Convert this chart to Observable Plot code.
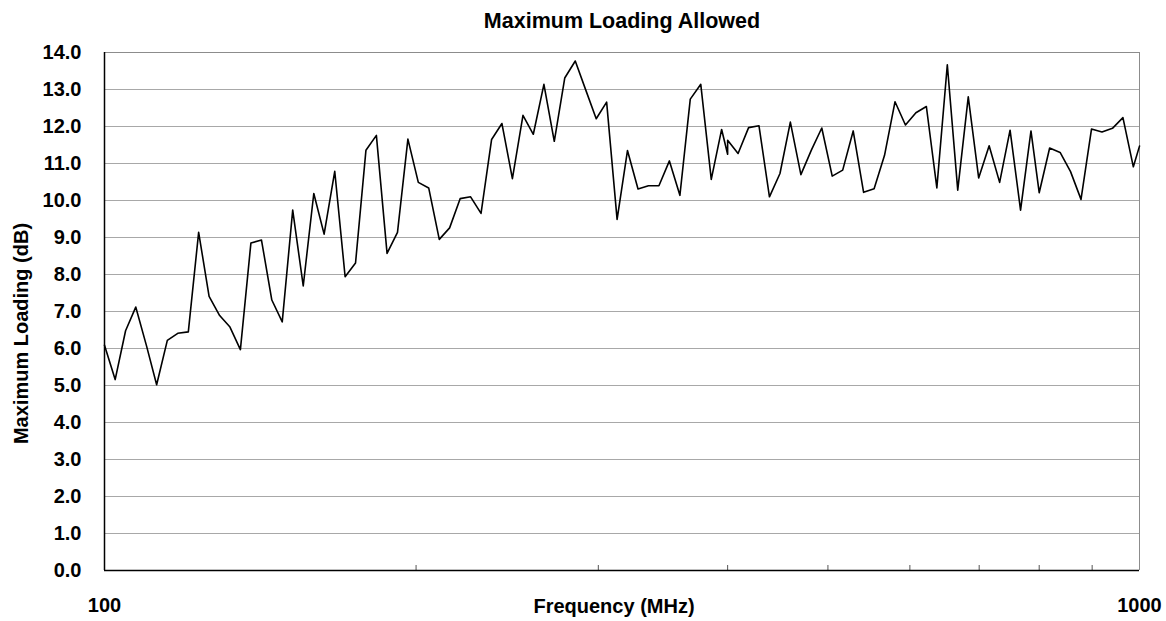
<!DOCTYPE html>
<html><head><meta charset="utf-8">
<script src="https://cdn.jsdelivr.net/npm/d3@7"></script>
<script src="https://cdn.jsdelivr.net/npm/@observablehq/plot@0.6"></script>
<style>
body{margin:0;background:#fff;}
svg{font-family:Arial,"Liberation Sans",sans-serif;}
</style>
</head><body><div id="chart"></div>
<script>
// Frequencies (MHz), three bands
const freqBand1 = [100,102.4,104.8,107.2,109.8,112.3,115.0,117.7,120.5,123.3,126.2,129.2,132.2,135.3,138.5,141.8,145.1,148.5,152.0,155.6,159.3,163.0,166.9,170.8,174.8,178.9,183.1,187.5,191.9,196.4,201.0,205.7,210.6,215.5,220.6,225.8,231.1,236.6,242.1,247.8,253.7,259.6,265.8,272.0,278.4,285.0,291.7,298.6,305.6,312.8,320.1,327.7,335.4,343.3,351.4,359.7,368.1,376.8,385.7,394.7,400];
const loadBand1 = [6.09,5.16,6.48,7.12,6.07,5.02,6.22,6.41,6.45,9.14,7.41,6.89,6.58,5.97,8.85,8.93,7.31,6.72,9.74,7.69,10.19,9.09,10.79,7.94,8.31,11.36,11.76,8.57,9.14,11.66,10.49,10.34,8.95,9.26,10.05,10.10,9.65,11.65,12.08,10.59,12.30,11.79,13.14,11.60,13.31,13.77,12.99,12.21,12.66,9.49,11.35,10.31,10.40,10.40,11.07,10.14,12.74,13.14,10.57,11.92,11.25];
const freqBand2 = [400,409.4,419.1,428.9,439.0,449.4,459.9,470.8,481.9,493.2,504.8,516.7,528.9,541.3,554.1,567.1,580.5,594.1,608.1,622.4,637.1,652.1,667.4,683.2,699.2,715.7,732.6,749.8,767.5,785.5,800];
const loadBand2 = [11.63,11.27,11.97,12.02,10.10,10.73,12.12,10.70,11.36,11.96,10.66,10.82,11.88,10.22,10.32,11.22,12.67,12.04,12.37,12.54,10.34,13.67,10.28,12.80,10.61,11.48,10.49,11.90,9.74,11.88,10.21];
const freqBand3 = [818.8,838.1,857.8,878.0,898.7,919.9,941.6,963.8,986.4,1000];
const loadBand3 = [11.42,11.30,10.78,10.03,11.93,11.85,11.95,12.24,10.91,11.47];

const yTicks = [0,1,2,3,4,5,6,7,8,9,10,11,12,13,14];
const xLabelTicks = [100,1000];
const xMinorTicks = [200,300,400,500,600,700,800,900];

const titleText = "Maximum Loading Allowed";
const xTitle = "Frequency (MHz)";
const yTitle = "Maximum Loading (dB)";

const freqs = [...freqBand1, ...freqBand2, ...freqBand3];
const loads = [...loadBand1, ...loadBand2, ...loadBand3];
const data = freqs.map((f, i) => ({f, v: loads[i]}));

const font = {fontSize: 20, fontWeight: "bold", fill: "black"};

const chart = Plot.plot({
  width: 1166, height: 621,
  marginLeft: 104, marginRight: 27, marginTop: 52, marginBottom: 51,
  x: {type: "log", domain: [100, 1000], axis: null},
  y: {domain: [0, 14], axis: null},
  marks: [
    Plot.ruleY(yTicks, {stroke: "#a8a8a8", strokeWidth: 1}),
    Plot.ruleY([14], {stroke: "#8c8c8c", strokeWidth: 1}),
    Plot.ruleX([1000], {stroke: "#8c8c8c", strokeWidth: 1}),
    Plot.axisX({ticks: xMinorTicks, tickSize: -5, tickFormat: () => "", label: null, stroke: "#555"}),
    Plot.axisX({ticks: xLabelTicks, tickSize: 0, tickPadding: 27, tickFormat: d => String(d), label: null, ...font}),
    Plot.axisY({ticks: yTicks, tickSize: 0, tickPadding: 23, tickFormat: d => d.toFixed(1), label: null, ...font}),
    Plot.line(data, {x: "f", y: "v", stroke: "black", strokeWidth: 1.6}),
    Plot.ruleX([100], {stroke: "black", strokeWidth: 1.5}),
    Plot.ruleY([0], {stroke: "black", strokeWidth: 1.5}),
    Plot.text([titleText], {frameAnchor: "top", dy: -31, lineAnchor: "middle", fontSize: 21.5, fontWeight: "bold", fill: "black"}),
    Plot.text([xTitle], {frameAnchor: "bottom", dy: 36, dx: -8, lineAnchor: "middle", ...font}),
    Plot.text([yTitle], {frameAnchor: "left", dx: -83, dy: 22, rotate: -90, textAnchor: "middle", lineAnchor: "middle", ...font})
  ]
});
document.getElementById("chart").appendChild(chart);
</script>
</body></html>
